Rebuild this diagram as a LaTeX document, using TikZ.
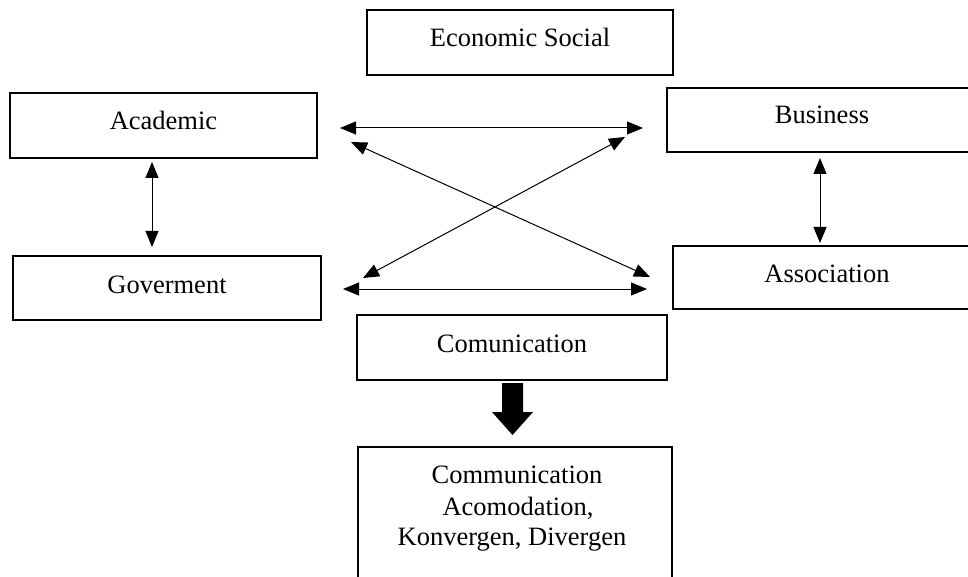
\documentclass[tikz,border=0pt]{standalone}
\usepackage{fontspec}
\setmainfont{Liberation Serif}
\usetikzlibrary{arrows.meta}
\begin{document}
\begin{tikzpicture}[x=1pt,y=1pt,
  box/.style={draw=black, line width=2pt, rectangle, inner sep=0pt},
  lbl/.style={anchor=base, inner sep=0pt, font=\fontsize{26.5}{31}\selectfont},
  link/.style={line width=1pt, {Triangle[length=16pt,width=13pt]}-{Triangle[length=16pt,width=13pt]}}
]
\useasboundingbox (0,0) rectangle (968,-577);
\clip (0,0) rectangle (968,-577);
% boxes (corners)
\node[box, minimum width=306pt, minimum height=65pt] (econ) at (520,-42.5) {};
\node[box, minimum width=307pt, minimum height=65pt] (acad) at (163.5,-125.5) {};
\node[box, minimum width=308pt, minimum height=64pt] (gov) at (167,-288) {};
\node[box, minimum width=310pt, minimum height=64pt] (bus) at (822,-120) {};
\node[box, minimum width=308pt, minimum height=63pt] (assoc) at (827,-277.5) {};
\node[box, minimum width=310pt, minimum height=65pt] (comm) at (512,-347.5) {};
\node[box, minimum width=314pt, minimum height=153pt] (res) at (515,-523.5) {};
% labels
\node[lbl] (econt) at (520,-47) {Economic Social};
\node[lbl] (acadt) at (163.5,-130) {Academic};
\node[lbl] (govt) at (167,-293) {Goverment};
\node[lbl] (bust) at (822,-124) {Business};
\node[lbl] (assoct) at (827,-282) {Association};
\node[lbl] (commt) at (512,-352) {Comunication};
\node[lbl] (rest1) at (517,-483) {Communication};
\node[lbl] (rest2) at (518,-515) {Acomodation,};
\node[lbl] (rest3) at (512,-545) {Konvergen, Divergen};
% connector ends
\coordinate (th1) at (340,-128);
\coordinate (th2) at (643,-128);
\coordinate (bh1) at (343,-289);
\coordinate (bh2) at (647,-289);
\coordinate (da1) at (351,-142);
\coordinate (da2) at (650,-277);
\coordinate (db1) at (363,-278);
\coordinate (db2) at (625,-137);
\coordinate (lv1) at (152,-162);
\coordinate (lv2) at (152,-247);
\coordinate (rv1) at (820,-158);
\coordinate (rv2) at (820,-243);
\draw[link] (th1) -- (th2);
\draw[link] (bh1) -- (bh2);
\draw[link] (da1) -- (da2);
\draw[link] (db1) -- (db2);
\draw[link] (lv1) -- (lv2);
\draw[link] (rv1) -- (rv2);
% thick arrow
\coordinate (ta) at (512.5,-383);
\fill[black] (ta) ++(-10.5,0) -- ++(21,0) -- ++(0,-29) -- ++(10,0) -- (512.5,-435) -- (492,-412) -- (502,-412) -- cycle;
\end{tikzpicture}
\end{document}
